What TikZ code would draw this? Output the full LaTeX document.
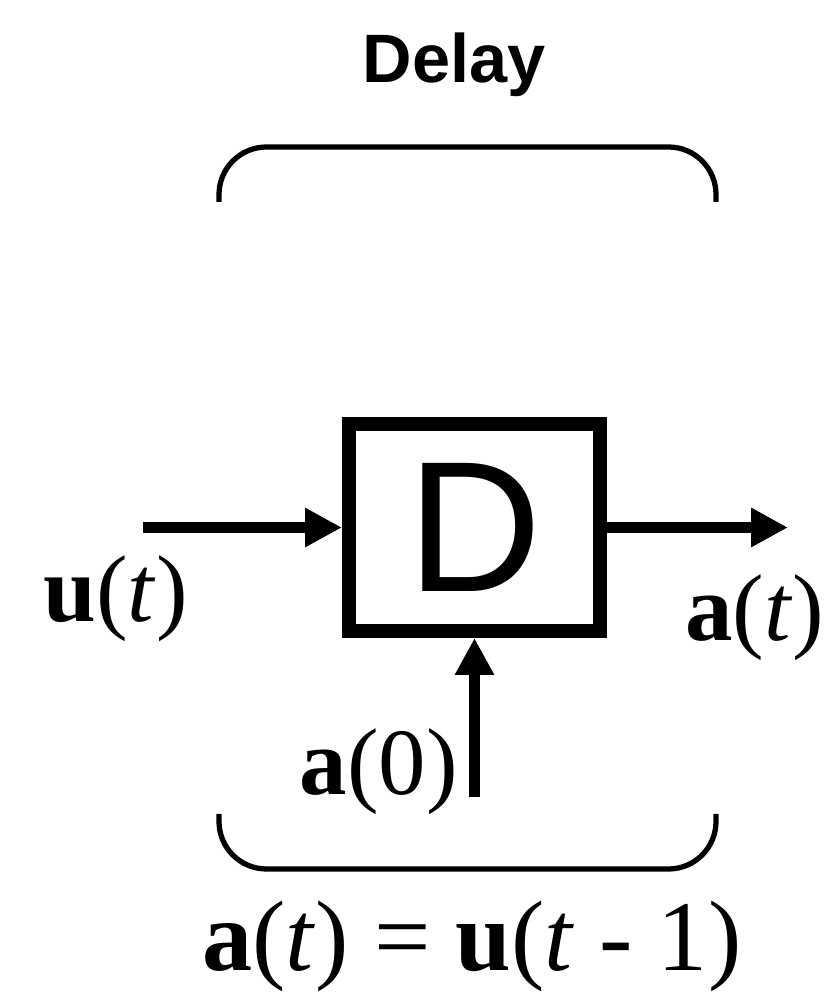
\documentclass[tikz,border=0pt]{standalone}
\usepackage{fontspec}
\setmainfont{Liberation Serif}
\setsansfont{Liberation Sans}
\usetikzlibrary{arrows.meta}
\begin{document}
\begin{tikzpicture}[
	sig/.style={line width=6pt, -{Triangle[length=21pt,width=21pt]}},
	brace/.style={line width=3pt, rounded corners=0.95cm},
	lbl/.style={inner sep=0pt, font=\fontsize{54}{60}\selectfont}]
	\useasboundingbox (0,0) rectangle (16.6,19.96);
	\node[draw, line width=8pt, minimum width=5.02cm, minimum height=4.14cm, font=\sffamily\fontsize{106}{120}\selectfont] (delay) at (9.49,9.41) {D};
	\coordinate (uin) at (2.86,9.41);
	\coordinate (aout) at (15.76,9.41);
	\coordinate (init) at (9.49,4.02);
	\draw[sig] (uin) -- (delay.west);
	\draw[sig] (delay.east) -- (aout);
	\draw[sig] (init) -- (delay.south);
	% braces above and below
	\draw[brace] (4.38,15.92) -- (4.38,17.02) -- (14.32,17.02) -- (14.32,15.92);
	\draw[brace] (4.38,3.68) -- (4.38,2.58) -- (14.32,2.58) -- (14.32,3.68);
	\node[font=\sffamily\bfseries\fontsize{39}{45}\selectfont, inner sep=0pt, anchor=base] (title) at (9.08,18.3) {Delay};
	\node[lbl, anchor=base east] (ulab) at (3.76,7.52) {\textbf{u}(\textit{t})};
	\node[lbl, anchor=base west] (alab) at (13.7,7.14) {\textbf{a}(\textit{t})};
	\node[lbl, anchor=base east] (azero) at (9.16,4.06) {\textbf{a}(0)};
	\node[lbl, font=\fontsize{57}{64}\selectfont, anchor=base] (eq) at (9.44,0.56) {\textbf{a}(\textit{t}) = \textbf{u}(\textit{t} - 1)};
\end{tikzpicture}
\end{document}
